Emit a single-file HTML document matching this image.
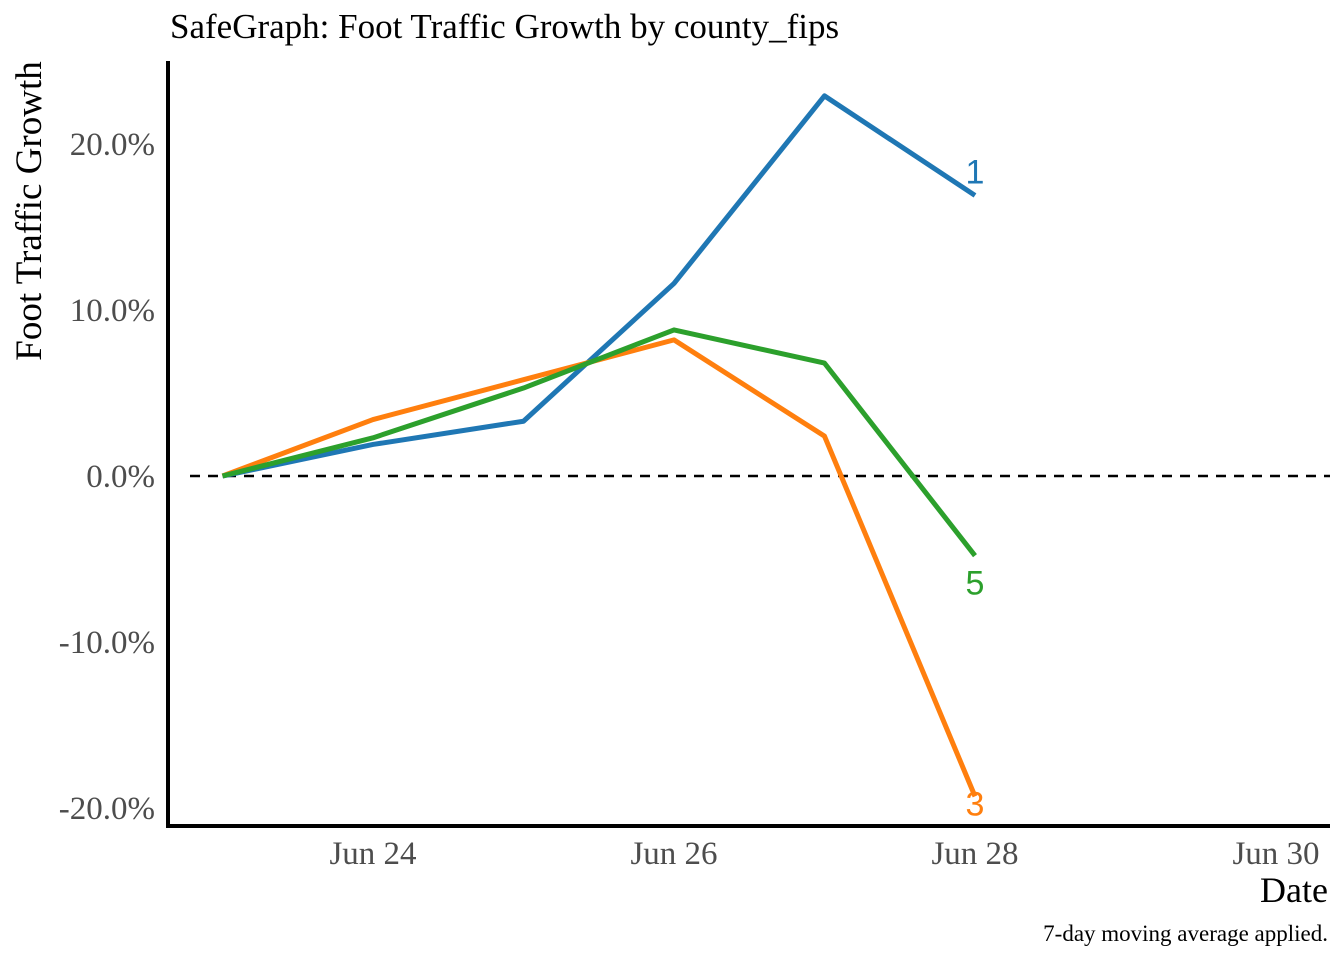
<!DOCTYPE html>
<html><head><meta charset="utf-8"><style>
html,body{margin:0;padding:0;background:#fff;width:1344px;height:960px;overflow:hidden}
svg text{font-family:"Liberation Serif",serif}
</style></head><body>
<svg id="chart" width="1344" height="960">
<text x="170" y="38" font-size="35" fill="#000">SafeGraph: Foot Traffic Growth by county_fips</text>
<text transform="translate(41,211) rotate(-90)" text-anchor="middle" font-size="37" fill="#000">Foot Traffic Growth</text>
<text x="1328" y="902" text-anchor="end" font-size="36" fill="#000">Date</text>
<text x="1328" y="941" text-anchor="end" font-size="23" fill="#000">7-day moving average applied.</text>
<g id="yticks"></g><g id="xticks"></g>
<line x1="168" y1="61" x2="168" y2="828" stroke="#000" stroke-width="4"/>
<line x1="166" y1="826" x2="1330" y2="826" stroke="#000" stroke-width="4"/>
<g id="series"></g>
</svg>
<script>
const dayIdx=[0,1,2,3,4,5];
const county1=[0,1.9,3.3,11.6,22.9,16.9];
const county3=[0,3.4,5.8,8.2,2.4,-19.3];
const county5=[0,2.3,5.3,8.8,6.8,-4.8];
const yTicks=[20,10,0,-10,-20];
const yTickLabels=["20.0%","10.0%","0.0%","-10.0%","-20.0%"];
const xTicks=[1,3,5,7];
const xTickLabels=["Jun 24","Jun 26","Jun 28","Jun 30"];
const seriesNames=["1","3","5"];
const X=d=>222.5+d*150.5;
const Y=v=>476-v*16.6;
const NS="http://www.w3.org/2000/svg";
function mk(t,a,p){const e=document.createElementNS(NS,t);for(const k in a)e.setAttribute(k,a[k]);p.appendChild(e);return e;}
const yt=document.getElementById('yticks'),xt=document.getElementById('xticks'),sg=document.getElementById('series');
yTicks.forEach((v,i)=>{const t=mk('text',{x:155,y:Y(v)+11,'text-anchor':'end','font-size':33,fill:'#4d4d4d'},yt);t.textContent=yTickLabels[i];

});
xTicks.forEach((d,i)=>{const t=mk('text',{x:X(d),y:864,'text-anchor':'middle','font-size':33,fill:'#4d4d4d'},xt);t.textContent=xTickLabels[i];

});
const zl=mk('line',{x1:190,x2:1330,y1:Y(0),y2:Y(0),stroke:'#000','stroke-width':2.4,'stroke-dasharray':'10,8'},sg);


const data=[county1,county3,county5],cols=['#1f77b4','#ff7f0e','#2ca02c'],off=[-12,19,39];
data.forEach((s,i)=>{const p=mk('polyline',{points:s.map((v,j)=>X(dayIdx[j])+','+Y(v)).join(' '),fill:'none',stroke:cols[i],'stroke-width':5,'stroke-linejoin':'round'},sg);


const last=s[s.length-1];
const t=mk('text',{x:X(dayIdx[dayIdx.length-1]),y:Y(last)+off[i],'text-anchor':'middle','font-size':34,fill:cols[i],style:'font-family:"Liberation Sans",sans-serif'},sg);t.textContent=seriesNames[i];

});
</script>
</body></html>
